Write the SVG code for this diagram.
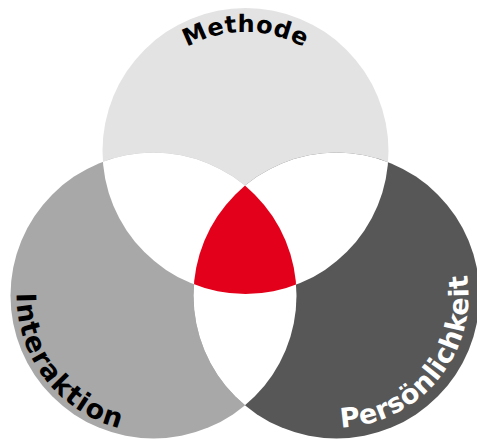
<svg xmlns="http://www.w3.org/2000/svg" width="477" height="442" viewBox="0 0 477 442">
  <style>
    .lbl { font-family: "DejaVu Sans", "Liberation Sans", sans-serif; font-weight: bold; font-size: 27px; }
    .dark { fill: #000000; }
    .light { fill: #ffffff; }
    .ov { fill: #ffffff; }
  </style>
  <defs>
    <clipPath id="clipTop"><circle cx="245.5" cy="151" r="143"/></clipPath>
    <clipPath id="clipLeft"><circle cx="153.5" cy="295.5" r="143"/></clipPath>
    <path id="arcTop" d="M 126.5 151 A 119 119 0 0 1 364.5 151"/>
    <path id="arcLeft" d="M 16.5 293.1 A 137 137 0 0 0 153.5 432.5"/>
    <path id="arcRight" d="M 341.1 427.4 A 132 132 0 0 0 450.8 229.5"/>
  </defs>

  <g id="methode-circle"><circle cx="245.5" cy="151" r="143" fill="#e3e3e3"/></g>
  <g id="interaktion-circle"><circle cx="153.5" cy="295.5" r="143" fill="#a8a8a8"/></g>
  <g id="persoenlichkeit-circle"><circle cx="336.5" cy="295.5" r="143" fill="#575757"/></g>

  <g id="overlaps">
    <g clip-path="url(#clipTop)">
      <circle class="ov" cx="153.5" cy="295.5" r="143"/>
      <circle class="ov" cx="336.5" cy="295.5" r="143"/>
    </g>
    <g clip-path="url(#clipLeft)">
      <circle class="ov" cx="336.5" cy="295.5" r="143"/>
    </g>
    <g id="center" clip-path="url(#clipTop)">
      <g clip-path="url(#clipLeft)">
        <circle cx="336.5" cy="295.5" r="143" fill="#e2001a"/>
      </g>
    </g>
  </g>

  <g id="methode-label">
    <text class="lbl dark" style="font-size:24px" letter-spacing="0.5"><textPath href="#arcTop" startOffset="50%" text-anchor="middle">Methode</textPath></text>
  </g>
  <g id="interaktion-label">
    <text class="lbl dark" letter-spacing="1.3"><textPath href="#arcLeft" startOffset="0">Interaktion</textPath></text>
  </g>
  <g id="persoenlichkeit-label">
    <text class="lbl light" letter-spacing="0.5"><textPath href="#arcRight" startOffset="0">Persönlichkeit</textPath></text>
  </g>
</svg>
